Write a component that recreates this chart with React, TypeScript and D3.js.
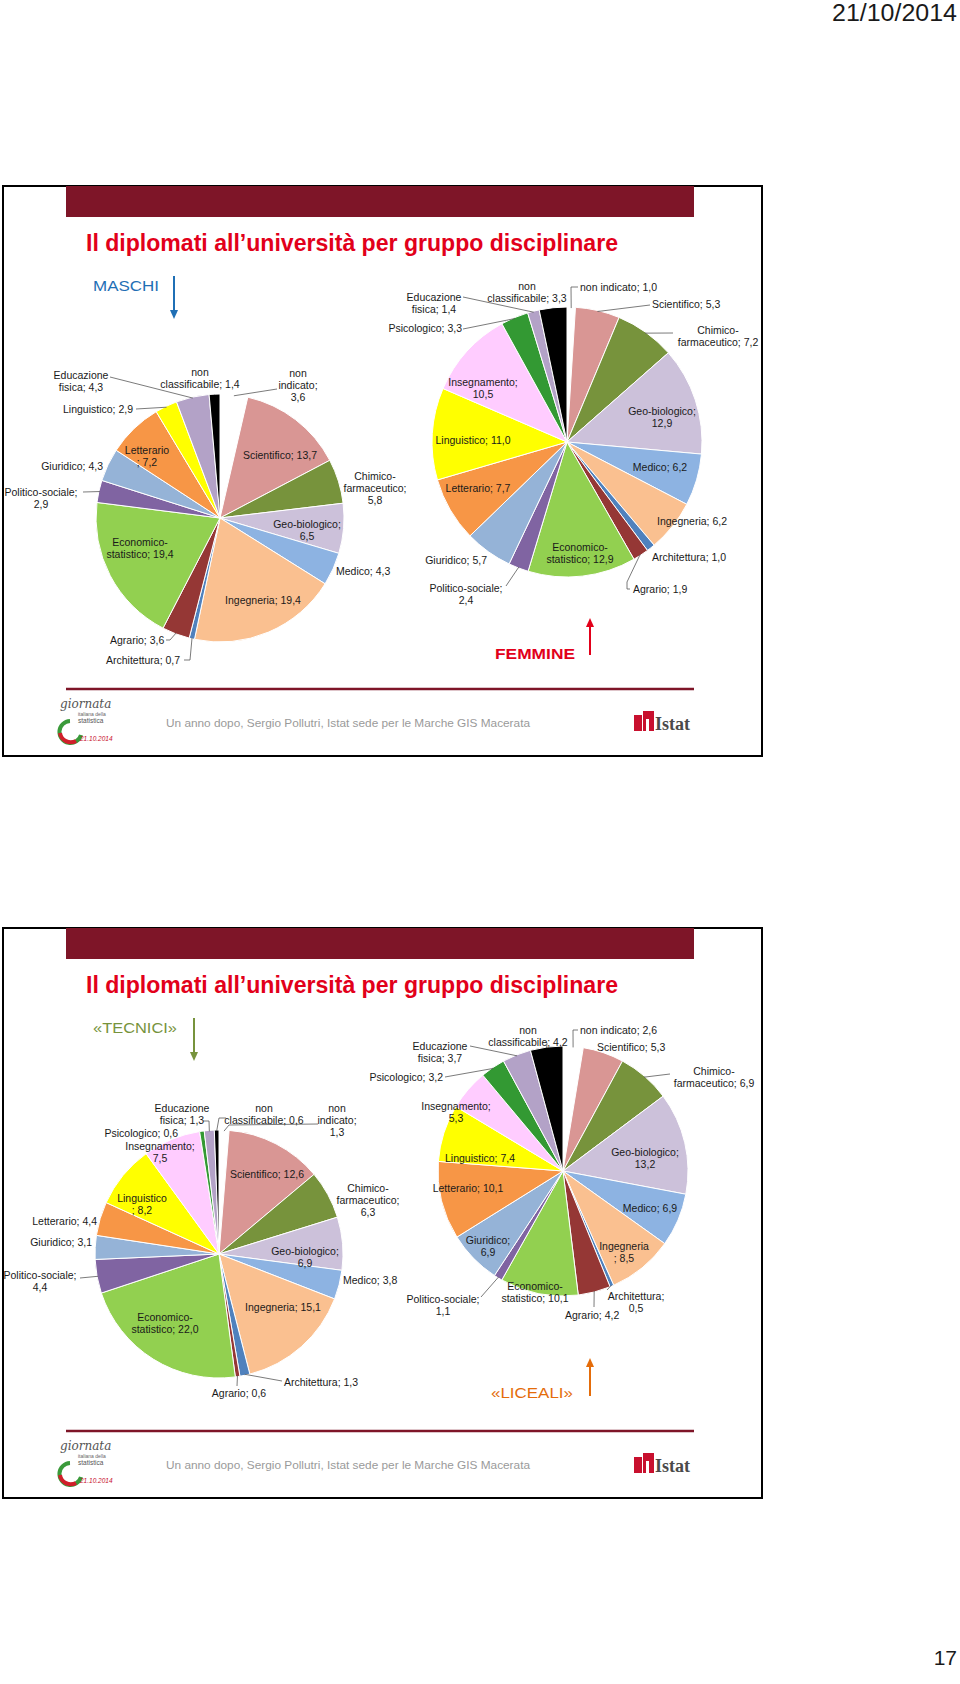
import React from 'react';
import * as d3 from 'd3';

// ---------- DATA ----------
const categories = [
  'non indicato', 'Scientifico', 'Chimico-farmaceutico', 'Geo-biologico', 'Medico',
  'Ingegneria', 'Architettura', 'Agrario', 'Economico-statistico', 'Politico-sociale',
  'Giuridico', 'Letterario', 'Linguistico', 'Insegnamento', 'Psicologico',
  'Educazione fisica', 'non classificabile',
];
const sliceColors = [
  '#ffffff', '#d99694', '#77933c', '#ccc1da', '#8db3e2',
  '#fac090', '#4f81bd', '#953735', '#92d050', '#8064a2',
  '#95b3d7', '#f79646', '#ffff00', '#ffccff', '#339933',
  '#b3a2c7', '#000000',
];
const maschi = [3.6, 13.7, 5.8, 6.5, 4.3, 19.4, 0.7, 3.6, 19.4, 2.9, 4.3, 7.2, 2.9, 0, 0, 4.3, 1.4];
const femmine = [1.0, 5.3, 7.2, 12.9, 6.2, 6.2, 1.0, 1.9, 12.9, 2.4, 5.7, 7.7, 11.0, 10.5, 3.3, 1.4, 3.3];
const tecnici = [1.3, 12.6, 6.3, 6.9, 3.8, 15.1, 1.3, 0.6, 22.0, 4.4, 3.1, 4.4, 8.2, 7.5, 0.6, 1.3, 0.6];
const liceali = [2.6, 5.3, 6.9, 13.2, 6.9, 8.5, 0.5, 4.2, 10.1, 1.1, 6.9, 10.1, 7.4, 5.3, 3.2, 3.7, 4.2];

const slideTitle = 'Il diplomati all\u2019università per gruppo disciplinare';
const footerText = 'Un anno dopo, Sergio Pollutri, Istat  sede per le Marche   GIS Macerata';
const dateText = '21/10/2014';
const pageNumber = '17';

// ---------- LABEL LAYOUT (mode, anchor, dx, dy, leader points) ----------
type Lab = [string, string, number, number, number[][]?];
const layoutMaschi: Lab[] = [
  ['wv', 'middle', 78, -145, [[57, -129]]],
  ['1', 'middle', 60, -63],
  ['wv', 'middle', 155, -42],
  ['v', 'middle', 87, 6],
  ['1', 'start', 116, 53],
  ['1', 'middle', 43, 82],
  ['1', 'start', -114, 142, [[-30, 142], [-36, 142]]],
  ['1', 'start', -110, 122, [[-50, 122], [-54, 122]]],
  ['w', 'middle', -80, 24],
  ['v', 'middle', -179, -26, [[-137, -26]]],
  ['1', 'end', -117, -52],
  ['c', 'middle', -73, -68],
  ['1', 'end', -87, -109, [[-84, -109]]],
  ['v', 'middle', 0, 0],
  ['v', 'middle', 0, 0],
  ['w', 'middle', -139, -143, [[-110, -141]]],
  ['w', 'middle', -20, -146],
];
const layoutFemmine: Lab[] = [
  ['1', 'start', 13, -155, [[4, -155], [11, -155]]],
  ['1', 'start', 85, -138, [[83, -137]]],
  ['w', 'middle', 151, -112, [[106, -109]]],
  ['v', 'middle', 95, -31],
  ['1', 'middle', 93, 25],
  ['1', 'start', 90, 79],
  ['1', 'start', 85, 115],
  ['1', 'start', 66, 147, [[60, 140], [60, 147], [63, 147]]],
  ['w', 'middle', 13, 105],
  ['v', 'middle', -101, 146, [[-61, 144]]],
  ['1', 'end', -80, 118],
  ['1', 'middle', -89, 46],
  ['1', 'middle', -94, -2],
  ['v', 'middle', -84, -60],
  ['1', 'end', -105, -114, [[-104, -113]]],
  ['w', 'middle', -133, -145, [[-104, -145]]],
  ['w', 'middle', -40, -156],
];
const layoutTecnici: Lab[] = [
  ['wv', 'middle', 118, -146, [[10, -129], [99, -130]]],
  ['1', 'middle', 48, -80],
  ['wv', 'middle', 149, -66],
  ['v', 'middle', 86, -3],
  ['1', 'start', 124, 26],
  ['1', 'middle', 64, 53],
  ['1', 'start', 65, 128, [[63, 127]]],
  ['1', 'middle', 20, 139, [[18, 132]]],
  ['w', 'middle', -54, 63],
  ['v', 'middle', -179, 21, [[-139, 24]]],
  ['1', 'end', -127, -12],
  ['1', 'end', -122, -33],
  ['c', 'middle', -77, -56],
  ['v', 'middle', -59, -108],
  ['1', 'end', -41, -121],
  ['w', 'middle', -37, -146, [[-10, -133], [-16, -133]]],
  ['w', 'middle', 45, -146, [[0, -136], [7, -136]]],
];
const layoutLiceali: Lab[] = [
  ['1', 'start', 17, -141, [[10, -141], [15, -141]]],
  ['1', 'start', 34, -124],
  ['w', 'middle', 151, -100, [[107, -97]]],
  ['v', 'middle', 82, -19],
  ['1', 'middle', 87, 37],
  ['c', 'middle', 61, 75],
  ['v', 'middle', 73, 125, [[44, 119]]],
  ['1', 'start', 2, 144, [[31, 136]]],
  ['w', 'middle', -28, 115],
  ['v', 'middle', -120, 128, [[-82, 126]]],
  ['v', 'middle', -75, 69],
  ['1', 'middle', -95, 17],
  ['1', 'middle', -83, -13],
  ['v', 'middle', -107, -65],
  ['1', 'end', -120, -94, [[-118, -94]]],
  ['w', 'middle', -123, -125, [[-93, -125]]],
  ['w', 'middle', -35, -141, [[-16, -128]]],
];

const fmt = (v: number) => v.toFixed(1).replace('.', ',');

function labelLines(name: string, v: number, mode: string): string[] {
  const val = fmt(v);
  if (mode === 'v') return [`${name};`, val];
  if (mode === 'c') return [name, `; ${val}`];
  if (mode === 'w' || mode === 'wv') {
    const i = name.search(/[ -]/);
    const cut = name[i] === '-' ? i + 1 : i;
    const first = name.slice(0, cut);
    const rest = name.slice(cut).trim();
    return mode === 'w' ? [first, `${rest}; ${val}`] : [first, `${rest};`, val];
  }
  return [`${name}; ${val}`];
}

const LABEL_FONT = '"Liberation Sans", Arial, sans-serif';

function PieChart({ values, cx, cy, r, layout }: { values: number[]; cx: number; cy: number; r: number; layout: Lab[] }) {
  const data = categories.map((c, i) => ({ c, v: values[i], color: sliceColors[i], i }));
  const pie = d3.pie<any>().value((d: any) => d.v).sort(null).startAngle(0).endAngle(2 * Math.PI);
  const arcs = pie(data);
  const arc = d3.arc<any>().innerRadius(0).outerRadius(r);
  const edge = d3.arc<any>().innerRadius(r - 1).outerRadius(r - 1);
  return (
    <g transform={`translate(${cx},${cy})`}>
      {arcs.map((a: any) =>
        a.data.v > 0 ? (
          <path key={a.data.c} d={arc(a) as string} fill={a.data.color} stroke="#ffffff" strokeWidth={1} />
        ) : null
      )}
      {arcs.map((a: any) => {
        if (a.data.v <= 0) return null;
        const [mode, anchor, dx, dy, lead] = layout[a.data.i];
        const lines = labelLines(a.data.c, a.data.v, mode);
        const start = edge.centroid(a);
        const pts = lead ? [start, ...lead] : null;
        return (
          <g key={'l' + a.data.c}>
            {pts && (
              <polyline
                points={pts.map((p) => p.join(',')).join(' ')}
                fill="none"
                stroke="#595959"
                strokeWidth={0.8}
              />
            )}
            <text
              x={dx}
              y={dy}
              textAnchor={anchor as any}
              fontFamily={LABEL_FONT}
              fontSize={10.5}
              fill="#1a1a1a"
            >
              {lines.map((t, k) => (
                <tspan key={k} x={dx} dy={k === 0 ? 3.7 : 12}>
                  {t}
                </tspan>
              ))}
            </text>
          </g>
        );
      })}
    </g>
  );
}

function Arrow({ x, y1, y2, color }: { x: number; y1: number; y2: number; color: string }) {
  const dir = y2 > y1 ? 1 : -1;
  return (
    <g>
      <line x1={x} y1={y1} x2={x} y2={y2 - dir * 7} stroke={color} strokeWidth={2} />
      <polygon points={`${x - 4},${y2 - dir * 9} ${x + 4},${y2 - dir * 9} ${x},${y2}`} fill={color} />
    </g>
  );
}

function GiornataLogo({ x, y }: { x: number; y: number }) {
  return (
    <g transform={`translate(${x},${y})`}>
      <text x={4} y={11} fontFamily='"DejaVu Serif", serif' fontStyle="italic" fontSize={12} fill="#555">giornata</text>
      <text x={22} y={19} fontFamily={LABEL_FONT} fontSize={5} fill="#666">italiana della</text>
      <text x={22} y={26} fontFamily={LABEL_FONT} fontSize={6.5} fill="#555">statistica</text>
      <path d="M 14 24 A 11 11 0 1 0 25 38" fill="none" stroke="#3a9a3a" strokeWidth={4} />
      <path d="M 4 36 A 11 11 0 0 0 20 44" fill="none" stroke="#d01f2a" strokeWidth={4} />
      <text x={24} y={44} fontFamily={LABEL_FONT} fontStyle="italic" fontSize={6.5} fill="#c8102e">21.10.2014</text>
    </g>
  );
}

function IstatLogo({ x, y }: { x: number; y: number }) {
  return (
    <g transform={`translate(${x},${y})`}>
      <rect x={0} y={4} width={8} height={16} fill="#c8102e" />
      <rect x={9} y={0} width={11} height={20} fill="#c8102e" />
      <rect x={12} y={8} width={3} height={12} fill="#ffffff" />
      <text x={21} y={19} fontFamily='"Liberation Serif", "DejaVu Serif", serif' fontWeight="bold" fontSize={18} fill="#4a4a4a">
        Istat
      </text>
    </g>
  );
}

function Slide({
  top, leftLabel, leftColor, leftArrowX, rightLabel, rightColor, rightBold, leftBold,
  leftValues, rightValues, leftLayout, rightLayout, leftPie, rightPie, leftLabelLen, rightLabelLen,
}: any) {
  const H = 570;
  return (
    <g>
      <rect x={3} y={top} width={759} height={H} fill="#ffffff" stroke="#000" strokeWidth={2} />
      <rect x={66} y={top} width={628} height={31} fill="#7e1528" />
      <text x={86} y={top + 65} fontFamily='"Liberation Sans Narrow", "Arial Narrow", "Liberation Sans", Arial, sans-serif'
        fontWeight="bold" fontSize={23} fill="#e2001a" textLength={532} lengthAdjust="spacingAndGlyphs">
        {slideTitle}
      </text>
      <text x={93} y={top + 105} fontFamily={LABEL_FONT} fontSize={15} fontWeight={leftBold ? 'bold' : 'normal'} fill={leftColor}
        textLength={leftLabelLen} lengthAdjust="spacingAndGlyphs">
        {leftLabel}
      </text>
      <Arrow x={leftArrowX} y1={top + leftPie.arrow[0]} y2={top + leftPie.arrow[1]} color={leftColor} />
      <PieChart values={leftValues} cx={leftPie.cx} cy={top + leftPie.cy} r={leftPie.r} layout={leftLayout} />
      <PieChart values={rightValues} cx={rightPie.cx} cy={top + rightPie.cy} r={rightPie.r} layout={rightLayout} />
      <text x={rightPie.labelX} y={top + rightPie.labelY} fontFamily={LABEL_FONT} fontSize={15} fontWeight={rightBold ? 'bold' : 'normal'}
        fill={rightColor} textLength={rightLabelLen} lengthAdjust="spacingAndGlyphs">
        {rightLabel}
      </text>
      <Arrow x={590} y1={top + rightPie.arrow[0]} y2={top + rightPie.arrow[1]} color={rightColor} />
      <line x1={66} x2={694} y1={top + 503} y2={top + 503} stroke="#7e1528" strokeWidth={2.5} />
      <text x={166} y={top + 541} fontFamily={LABEL_FONT} fontSize={11.5} fill="#9a9a9a" textLength={364} lengthAdjust="spacingAndGlyphs">
        {footerText}
      </text>
      <GiornataLogo x={56} y={top + 511} />
      <IstatLogo x={634} y={top + 525} />
    </g>
  );
}

export default function App() {
  return (
    <svg width={960} height={1684} viewBox="0 0 960 1684" style={{ position: 'absolute', left: 0, top: 0, background: '#fff' }}>
      <rect x={0} y={0} width={960} height={1684} fill="#ffffff" />
      <text x={957} y={21} textAnchor="end" fontFamily={LABEL_FONT} fontSize={23} fill="#1a1a1a" textLength={125} lengthAdjust="spacingAndGlyphs">
        {dateText}
      </text>
      <Slide
        top={186}
        leftLabel="MASCHI" leftColor="#1f6fb5" leftArrowX={174} leftLabelLen={66}
        rightLabel="FEMMINE" rightColor="#e2001a" rightBold rightLabelLen={80}
        leftValues={maschi} rightValues={femmine}
        leftLayout={layoutMaschi} rightLayout={layoutFemmine}
        leftPie={{ cx: 220, cy: 332, r: 124, arrow: [90, 133] }}
        rightPie={{ cx: 567, cy: 256, r: 135, labelX: 495, labelY: 473, arrow: [469, 432] }}
      />
      <Slide
        top={928}
        leftLabel={'\u00abTECNICI\u00bb'} leftColor="#77933c" leftArrowX={194} leftLabelLen={84}
        rightLabel={'\u00abLICEALI\u00bb'} rightColor="#e46c0a" rightLabelLen={82}
        leftValues={tecnici} rightValues={liceali}
        leftLayout={layoutTecnici} rightLayout={layoutLiceali}
        leftPie={{ cx: 219, cy: 326, r: 124, arrow: [90, 133] }}
        rightPie={{ cx: 563, cy: 243, r: 125, labelX: 491, labelY: 470, arrow: [468, 430] }}
      />
      <text x={957} y={1665} textAnchor="end" fontFamily={LABEL_FONT} fontSize={21} fill="#1a1a1a">
        {pageNumber}
      </text>
    </svg>
  );
}
